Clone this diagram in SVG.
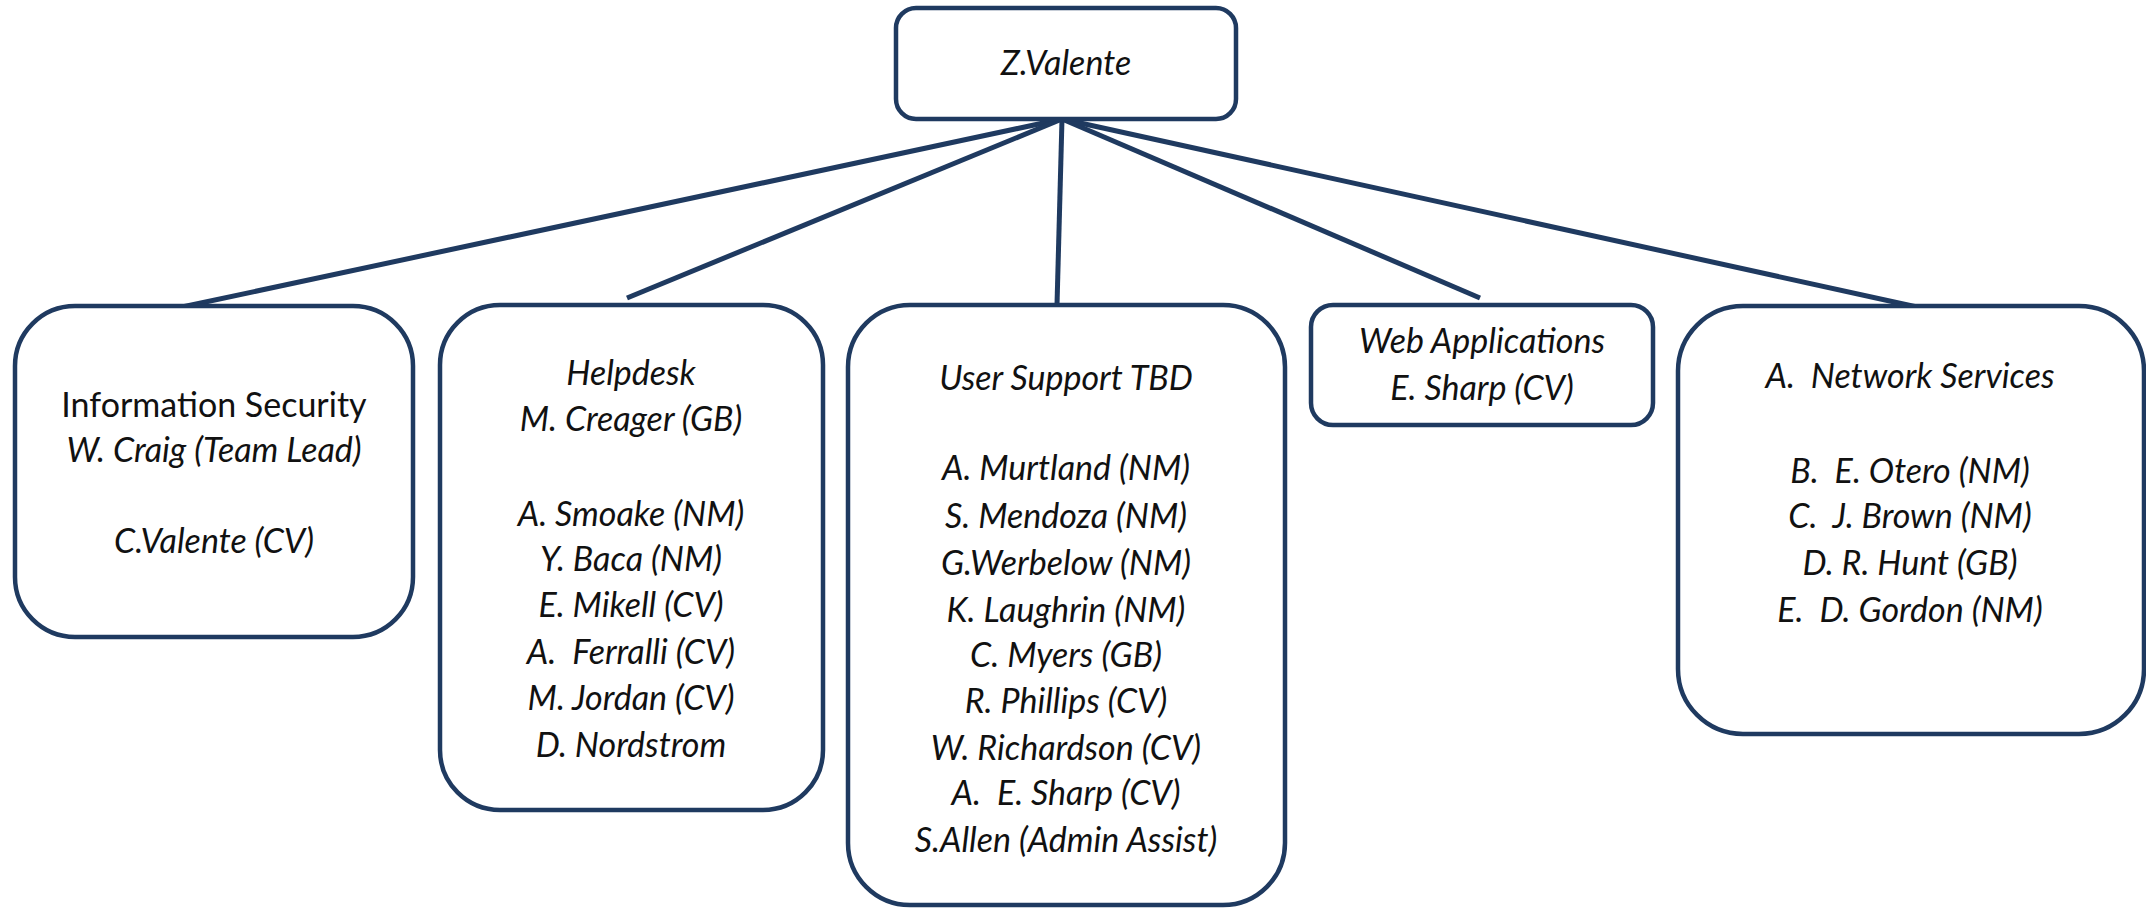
<svg xmlns="http://www.w3.org/2000/svg" width="2146" height="908" viewBox="0 0 2146 908">
  <style>
    .box { fill: #ffffff; stroke: #1f3a60; stroke-width: 4.5; }
    .link { stroke: #1f3a60; stroke-width: 5; fill: none; stroke-linecap: butt; }
    text { font-family: Lato, "Open Sans", "Liberation Sans", sans-serif; font-size: 34px; fill: #111111; text-anchor: middle; white-space: pre; }
    .it { font-style: italic; }
  </style>
  <rect width="2146" height="908" fill="#ffffff"/>

  <!-- reporting lines from the manager to each team -->
  <g id="connectors">
    <line class="link" x1="1062" y1="119" x2="182" y2="307"/>
    <line class="link" x1="1062" y1="119" x2="627" y2="298"/>
    <line class="link" x1="1062" y1="119" x2="1057" y2="305"/>
    <line class="link" x1="1062" y1="119" x2="1480" y2="298"/>
    <line class="link" x1="1062" y1="119" x2="1917" y2="307"/>
  </g>

  <g id="manager">
    <rect class="box" x="896" y="8" width="340" height="111" rx="20"/>
    <text class="it" x="1066" y="75">Z.Valente</text>
  </g>

  <g id="information-security">
    <rect class="box" x="15" y="306" width="398" height="331" rx="60"/>
    <text x="214" y="417">Information Security</text>
    <text class="it" x="214" y="462">W. Craig (Team Lead)</text>
    <text class="it" x="214" y="553">C.Valente (CV)</text>
  </g>

  <g id="helpdesk">
    <rect class="box" x="440" y="305" width="383" height="505" rx="60"/>
    <text class="it" x="631" y="385">Helpdesk</text>
    <text class="it" x="631" y="431">M. Creager (GB)</text>
    <text class="it" x="631" y="526">A. Smoake (NM)</text>
    <text class="it" x="631" y="571">Y. Baca (NM)</text>
    <text class="it" x="631" y="617">E. Mikell (CV)</text>
    <text class="it" x="631" y="664">A.  Ferralli (CV)</text>
    <text class="it" x="631" y="710">M. Jordan (CV)</text>
    <text class="it" x="631" y="757">D. Nordstrom</text>
  </g>

  <g id="user-support">
    <rect class="box" x="848" y="305" width="437" height="600" rx="62"/>
    <text class="it" x="1066" y="390">User Support TBD</text>
    <text class="it" x="1066" y="480">A. Murtland (NM)</text>
    <text class="it" x="1066" y="528">S. Mendoza (NM)</text>
    <text class="it" x="1066" y="575">G.Werbelow (NM)</text>
    <text class="it" x="1066" y="622">K. Laughrin (NM)</text>
    <text class="it" x="1066" y="667">C. Myers (GB)</text>
    <text class="it" x="1066" y="713">R. Phillips (CV)</text>
    <text class="it" x="1066" y="760">W. Richardson (CV)</text>
    <text class="it" x="1066" y="805">A.  E. Sharp (CV)</text>
    <text class="it" x="1066" y="852">S.Allen (Admin Assist)</text>
  </g>

  <g id="web-applications">
    <rect class="box" x="1311" y="305" width="342" height="120" rx="22"/>
    <text class="it" x="1482" y="353">Web Applications</text>
    <text class="it" x="1482" y="400">E. Sharp (CV)</text>
  </g>

  <g id="network-services">
    <rect class="box" x="1678" y="306" width="466" height="428" rx="65"/>
    <text class="it" x="1910" y="388">A.  Network Services</text>
    <text class="it" x="1910" y="483">B.  E. Otero (NM)</text>
    <text class="it" x="1910" y="528">C.  J. Brown (NM)</text>
    <text class="it" x="1910" y="575">D. R. Hunt (GB)</text>
    <text class="it" x="1910" y="622">E.  D. Gordon (NM)</text>
  </g>
</svg>
